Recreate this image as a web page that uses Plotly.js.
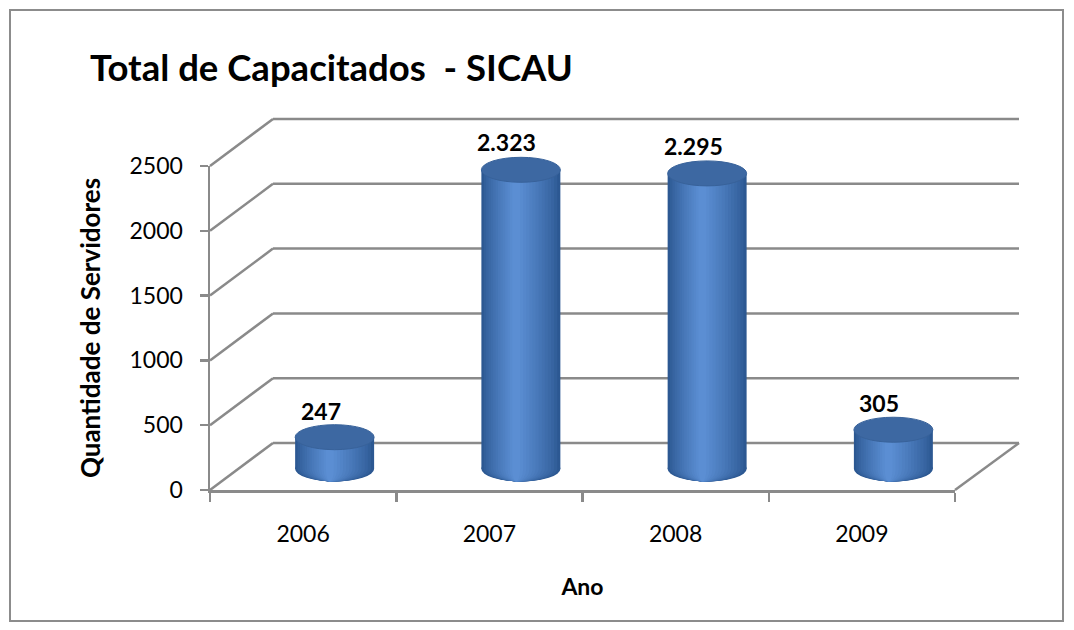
<!DOCTYPE html>
<html>
<head>
<meta charset="utf-8">
<script src="https://cdn.plot.ly/plotly-3.0.1.min.js"></script>
<style>html,body{margin:0;padding:0;background:#fff;}#chart{width:1074px;height:630px;}</style>
</head>
<body>
<div id="chart"></div>
<script>
// ---- data ----
const years = ['2006', '2007', '2008', '2009'];
const capacitados = [247, 2323, 2295, 305];
const yTicks = [0, 500, 1000, 1500, 2000, 2500];
const chartTitle = 'Total de Capacitados  - SICAU';
const yTitle = 'Quantidade de Servidores';
const xTitle = 'Ano';

// ---- layout constants (pixels -> paper) ----
const W = 1074, H = 630;
const px = v => v / W;
const py = v => 1 - v / H;
const YMAX = 2500;
const FONT = 'Lato, "Open Sans", sans-serif';
const GRID = '#8a8a8a';
const GW = 2.5;

const front = { x0: px(210), x1: px(955), y0: py(490), y1: py(166) };
const back  = { x0: px(273), x1: px(1019), y0: py(443), y1: py(119) };
// mid-depth plane for the cylinders: value 0 at 469px, 2500 at 147px; extended below 0 for the rounded base
const MID_SCALE = (469 - 147) / YMAX;
const MID_LOW = -250;
const mid   = { x0: px(241.5), x1: px(986.5), y0: py(469 - MID_LOW * MID_SCALE), y1: py(147) };

function fmt(n) { return String(n).replace(/\B(?=(\d{3})+(?!\d))/g, '.'); }
const yF = v => front.y0 + v / YMAX * (front.y1 - front.y0);
const yB = v => back.y0 + v / YMAX * (back.y1 - back.y0);

// cylinder styling
const barW = 0.424;                 // category units
const ellH = 12.5 / MID_SCALE;      // half height of ellipse in value units
const NL = 14;
function mix(a, b, t) {
  const pa = [1, 3, 5].map(j => parseInt(a.substr(j, 2), 16));
  const pb = [1, 3, 5].map(j => parseInt(b.substr(j, 2), 16));
  return 'rgb(' + pa.map((c, j) => Math.round(c + (pb[j] - c) * t)).join(',') + ')';
}
const layers = [];
for (let k = 0; k < NL; k++) {
  const t = k / (NL - 1);
  layers.push({ f: 1 - 0.9 * t, c: mix('#2C5892', '#5B8ED3', Math.pow(t, 0.8)) });
}

const traces = [];
const shapes = [];

// outer chart border
shapes.push({ type: 'rect', xref: 'paper', yref: 'paper', x0: px(10), x1: px(1063), y0: py(10), y1: py(621),
  line: { color: '#8c8c8c', width: 2 }, layer: 'below' });

// side-wall diagonals and back-wall lines
yTicks.forEach(v => {
  shapes.push({ type: 'line', xref: 'paper', yref: 'paper', x0: front.x0, y0: yF(v), x1: back.x0, y1: yB(v),
    line: { color: GRID, width: GW }, layer: 'below' });
  shapes.push({ type: 'line', xref: 'paper', yref: 'paper', x0: back.x0, y0: yB(v), x1: back.x1, y1: yB(v),
    line: { color: GRID, width: GW }, layer: 'below' });
});
// floor right edge
shapes.push({ type: 'line', xref: 'paper', yref: 'paper', x0: front.x1, y0: yF(0), x1: back.x1, y1: yB(0),
  line: { color: GRID, width: GW }, layer: 'below' });

// invisible anchor traces for front and back axes
traces.push({ type: 'scatter', mode: 'markers', x: years, y: capacitados, xaxis: 'x', yaxis: 'y',
  marker: { opacity: 0 }, hoverinfo: 'skip', showlegend: false });
traces.push({ type: 'scatter', mode: 'markers', x: years, y: capacitados, xaxis: 'x2', yaxis: 'y2',
  marker: { opacity: 0 }, hoverinfo: 'skip', showlegend: false });

// cylinders: layered bars for shading + bottom ellipses + top ellipse
layers.forEach((L, k) => {
  const w = barW * L.f;
  const shift = -0.06 * barW * (k / (layers.length - 1));
  traces.push({
    type: 'bar', x: years, y: capacitados, xaxis: 'x3', yaxis: 'y3',
    width: w, offset: -w / 2 + shift, base: 0,
    marker: { color: L.c, line: { width: 0 } },
    hoverinfo: 'skip', showlegend: false
  });
  years.forEach((yr, i) => {
    shapes.push({ type: 'circle', xref: 'x3', yref: 'y3',
      x0: i - w / 2 + shift, x1: i + w / 2 + shift, y0: -ellH, y1: ellH,
      fillcolor: L.c, line: { width: 0 }, layer: 'below' });
  });
});
capacitados.forEach((v, i) => {
  shapes.push({ type: 'circle', xref: 'x3', yref: 'y3',
    x0: i - barW / 2, x1: i + barW / 2, y0: v - ellH, y1: v + ellH,
    fillcolor: '#3D68A2', line: { color: '#38629A', width: 1 }, layer: 'above' });
});

// data labels
const annotations = capacitados.map((v, i) => ({
  xref: 'x3', yref: 'y2', x: i, y: v, xshift: -14, yshift: 0,
  text: fmt(v), showarrow: false, xanchor: 'center', yanchor: 'middle',
  font: { family: FONT, size: 23, color: '#000', weight: 'bold' }
}));

const layout = {
  width: W, height: H,
  margin: { l: 0, r: 0, t: 0, b: 0 },
  paper_bgcolor: '#ffffff', plot_bgcolor: 'rgba(0,0,0,0)',
  showlegend: false, barmode: 'overlay',
  title: { text: '<b>' + chartTitle + '</b>', x: px(90), xanchor: 'left', xref: 'paper',
    y: py(68), yanchor: 'middle', yref: 'paper',
    font: { family: FONT, size: 36.5, color: '#000' } },
  xaxis: { domain: [front.x0, front.x1], anchor: 'y', type: 'category', range: [-0.5, 3.5],
    showline: true, linecolor: GRID, linewidth: GW, ticks: 'outside', tickson: 'boundaries',
    ticklen: 9, tickwidth: GW, tickcolor: GRID, showgrid: false, zeroline: false,
    tickfont: { family: FONT, size: 23, color: '#000' }, ticklabelstandoff: 22,
    title: { text: '<b>' + xTitle + '</b>', standoff: 33, font: { family: FONT, size: 23, color: '#000' } },
    fixedrange: true },
  yaxis: { domain: [front.y0, front.y1], anchor: 'x', range: [0, YMAX], tickvals: yTicks,
    showline: true, linecolor: GRID, linewidth: GW, ticks: 'outside', ticklen: 8, tickwidth: GW,
    tickcolor: GRID, showgrid: false, zeroline: false,
    tickfont: { family: FONT, size: 23, color: '#000' }, ticklabelstandoff: 12,
    title: { text: '<b>' + yTitle + '</b>', standoff: 22, font: { family: FONT, size: 26, color: '#000' } },
    fixedrange: true },
  xaxis2: { domain: [back.x0, back.x1], anchor: 'y2', type: 'category', range: [-0.5, 3.5],
    visible: false, fixedrange: true },
  yaxis2: { domain: [back.y0, back.y1], anchor: 'x2', range: [0, YMAX], visible: false, fixedrange: true },
  xaxis3: { domain: [mid.x0, mid.x1], anchor: 'y3', type: 'category', range: [-0.5, 3.5],
    visible: false, fixedrange: true },
  yaxis3: { domain: [mid.y0, mid.y1], anchor: 'x3', range: [MID_LOW, YMAX], visible: false, fixedrange: true },
  shapes: shapes,
  annotations: annotations
};

Plotly.newPlot('chart', traces, layout, { displayModeBar: false, staticPlot: true });
</script>
</body>
</html>
